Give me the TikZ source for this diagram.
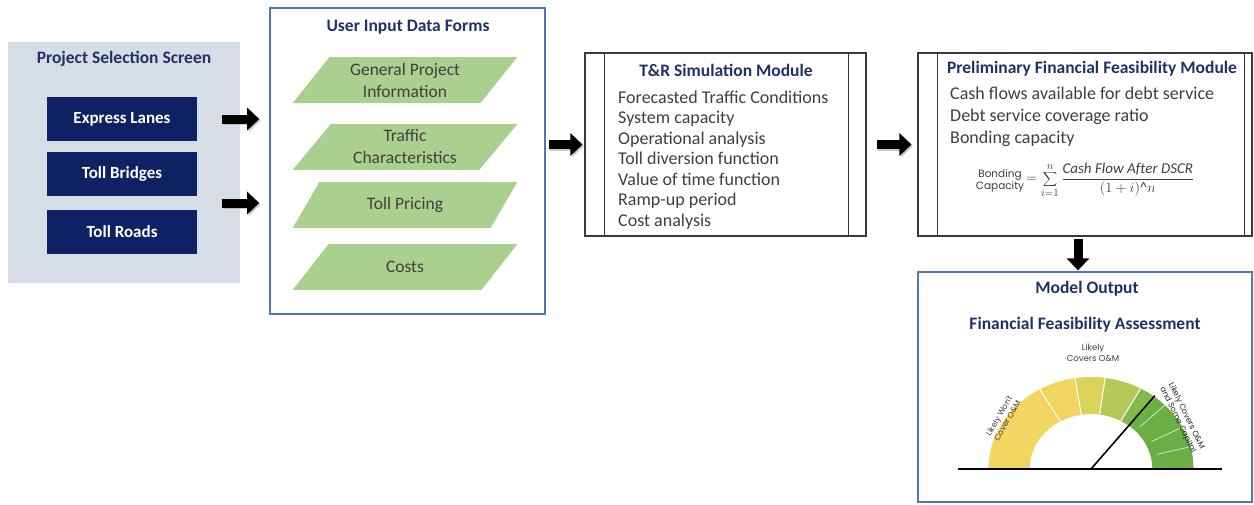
\documentclass[tikz,border=0pt]{standalone}
\usepackage{fontspec}
\setmainfont{Carlito}
\newfontfamily\geofont{Poppins}
\usetikzlibrary{arrows.meta,shapes.geometric,calc}

\definecolor{panelgray}{HTML}{D7DDE6}
\definecolor{navybox}{HTML}{0D2163}
\definecolor{titlenavy}{HTML}{1F3168}
\definecolor{frameblue}{HTML}{5276B8}
\definecolor{formgreen}{HTML}{A9D08E}
\definecolor{bodygray}{HTML}{3F3F3F}
\definecolor{boxgray}{HTML}{3A3A3A}
\definecolor{gaugeA}{HTML}{F3D562}
\definecolor{gaugeB}{HTML}{F0D560}
\definecolor{gaugeC}{HTML}{DAD35C}
\definecolor{gaugeD}{HTML}{B6C958}
\definecolor{gaugeE}{HTML}{84BA4B}
\definecolor{gaugeF}{HTML}{6BAE44}

\tikzset{
  titletext/.style={font=\fontsize{17.5}{20}\selectfont\bfseries, text=titlenavy, inner sep=0pt},
  navytile/.style={fill=navybox, text=white, font=\fontsize{17}{20}\selectfont\bfseries,
    minimum width=150pt, minimum height=44pt, inner sep=0pt},
  formbox/.style={trapezium, trapezium left angle=52, trapezium right angle=128,
    trapezium stretches=true, fill=formgreen, minimum width=225pt, minimum height=46pt,
    inner sep=0pt, text=bodygray, align=center, font=\fontsize{17.5}{22}\selectfont},
  modulebox/.style={draw=boxgray, line width=1.1pt, inner sep=0pt},
  itemtext/.style={anchor=west, inner sep=0pt, text=bodygray, text height=12pt, text depth=3.5pt,
    font=\fontsize{18}{21}\selectfont},
  blockarrow/.style={line width=9pt, black, -{Triangle[length=12pt,width=22pt]}},
  arrowshade/.style={line width=9pt, black!35, opacity=0.6, -{Triangle[length=12pt,width=22pt]}},
  gaugetext/.style={font=\geofont\fontsize{8}{9.5}\selectfont, text=bodygray, align=center, inner sep=0pt},
}

\begin{document}
\begin{tikzpicture}[x=1pt,y=-1pt]
\useasboundingbox (0,0) rectangle (1254,504);

% project selection panel
\node[fill=panelgray, minimum width=232pt, minimum height=241pt, inner sep=0pt] (psel) at (124,162.5) {};
\node[titletext] (pselt) at (124,59) {Project Selection Screen};
\node[navytile] (el)  at (122,119) {Express Lanes};
\node[navytile] (tb)  at (122,174) {Toll Bridges};
\node[navytile] (trd) at (122,232) {Toll Roads};
\coordinate (midtiles) at ($(tb)!0.5!(trd)$);

% user input forms
\node[draw=frameblue, line width=1.6pt, minimum width=275pt, minimum height=306pt, inner sep=0pt] (ui) at (407.5,161) {};
\node[titletext] (uit) at (408,27) {User Input Data Forms};
\node[formbox] (f1) at (405,80)  {General Project\\Information};
\node[formbox] (f2) at (405,147) {Traffic\\Characteristics};
\node[formbox] (f3) at (405,205) {Toll Pricing};
\node[formbox] (f4) at (405,267) {Costs};

% T&R simulation module
\node[modulebox, minimum width=281pt, minimum height=183pt] (tr) at (725.5,144.5) {};
\draw[boxgray, line width=0.8pt] ([xshift=20pt]tr.north west) -- ([xshift=20pt]tr.south west);
\draw[boxgray, line width=0.8pt] ([xshift=-18pt]tr.north east) -- ([xshift=-18pt]tr.south east);
\node[titletext] (trt) at (726,70) {T\&R Simulation Module};
\foreach \txt [count=\k from 0] in {Forecasted Traffic Conditions, System capacity,
  Operational analysis, Toll diversion function, Value of time function,
  Ramp-up period, Cost analysis}
  \node[itemtext] (tri\k) at (618,{99+20.5*\k}) {\txt};

% preliminary financial feasibility module
\node[modulebox, minimum width=334pt, minimum height=183pt] (pff) at (1085,144.5) {};
\draw[boxgray, line width=0.8pt] ([xshift=20pt]pff.north west) -- ([xshift=20pt]pff.south west);
\draw[boxgray, line width=0.8pt] ([xshift=-8pt]pff.north east) -- ([xshift=-8pt]pff.south east);
\node[titletext] (pfft) at (1092,69) {Preliminary Financial Feasibility Module};
\foreach \txt [count=\k from 0] in {Cash flows available for debt service,
  Debt service coverage ratio, Bonding capacity}
  \node[itemtext] (pffi\k) at (950,{95+22*\k}) {\txt};
\node[inner sep=0pt, align=center, text=bodygray, font=\geofont\fontsize{10.5}{12.5}\selectfont] (bclabel) at (1000,181) {Bonding\\Capacity};
\node[inner sep=0pt, anchor=west, text=bodygray, font=\fontsize{15}{17}\selectfont] (bceq) at (1026,180)
  {$=\displaystyle\sum_{i=1}^{n}\frac{\mathit{Cash\ Flow\ After\ DSCR}}{(1+i)\mbox{\textasciicircum}n}$};

% model output
\node[draw=frameblue, line width=1.3pt, minimum width=334pt, minimum height=230pt, inner sep=0pt] (mo) at (1085,387) {};
\node[titletext] (mot) at (1087,289) {Model Output};
\node[titletext, font=\fontsize{17.5}{20}\selectfont\bfseries] (ffa) at (1085,325) {Financial Feasibility Assessment};

% gauge
\begin{scope}[shift={(1091,469)}, yscale=-1, xscale=1.115]
  \def\Ri{55}
  \def\Ro{92}
  \foreach \aa/\ab/\cc in {180/120/gaugeA, 120/99/gaugeB, 99/82/gaugeC, 82/61/gaugeD,
      61/51/gaugeE, 51/0/gaugeF}
    \fill[\cc] (\aa:\Ro) arc[start angle=\aa, end angle=\ab, radius=\Ro]
      -- (\ab:\Ri) arc[start angle=\ab, end angle=\aa, radius=\Ri] -- cycle;
  \foreach \aa in {120,99,82,61}
    \draw[white, line width=1pt] (\aa:\Ri) -- (\aa:\Ro);
  \foreach \aa in {44,27,14}
    \draw[white!70!gaugeF, line width=0.8pt] (\aa:\Ri+6) -- (\aa:\Ro);
  \coordinate (hub) at (0,0);
  \coordinate (tip) at (52:93);
\end{scope}
\coordinate (baseL) at (958,469);
\coordinate (baseR) at (1222,469);
\draw[line width=1.8pt] (baseL) -- (baseR);
\draw[line width=1.6pt] (hub) -- (tip);
\node[gaugetext, rotate=60] (lwon) at (1003,418) {Likely Won't\\Cover O\&M};
\node[gaugetext, font=\geofont\fontsize{8.5}{11}\selectfont] (lcov) at (1093,353) {Likely\\Covers O\&M};
\node[gaugetext, rotate=-64, text=black!85] (lcap) at (1182,418) {Likely Covers O\&M\\and Some Capital};

% flow arrows
\draw[arrowshade, shorten <=-18pt, shorten >=10pt, transform canvas={shift={(1.5pt,-1.5pt)}}] (psel.east |- el) -- (ui.west |- el);
\draw[blockarrow, shorten <=-18pt, shorten >=10pt] (psel.east |- el) -- (ui.west |- el);
\draw[arrowshade, shorten <=-18pt, shorten >=10pt, transform canvas={shift={(1.5pt,-1.5pt)}}] (psel.east |- midtiles) -- (ui.west |- midtiles);
\draw[blockarrow, shorten <=-18pt, shorten >=10pt] (psel.east |- midtiles) -- (ui.west |- midtiles);
\draw[arrowshade, shorten <=3pt, shorten >=2pt, transform canvas={shift={(1.5pt,-1.5pt)}}] (ui.east |- tr.west) -- (tr.west);
\draw[blockarrow, shorten <=3pt, shorten >=2pt] (ui.east |- tr.west) -- (tr.west);
\draw[arrowshade, shorten <=10pt, shorten >=6pt, transform canvas={shift={(1.5pt,-1.5pt)}}] (tr.east) -- (pff.west);
\draw[blockarrow, shorten <=10pt, shorten >=6pt] (tr.east) -- (pff.west);
\draw[blockarrow, shorten <=2pt, shorten >=1pt] ([xshift=-7pt]pff.south) -- ([xshift=-7pt]mo.north);
\end{tikzpicture}
\end{document}
